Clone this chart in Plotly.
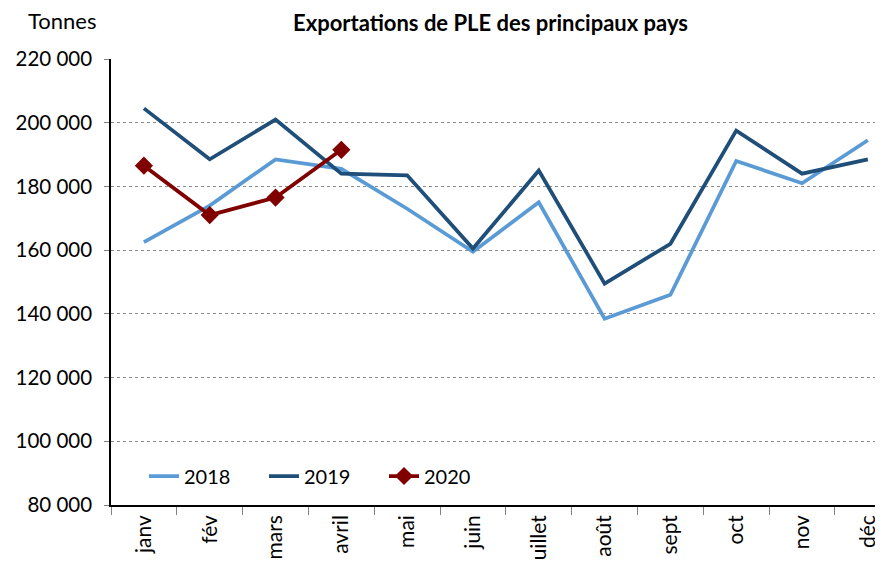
import plotly.graph_objects as go

months = ["janv", "fév", "mars", "avril", "mai", "juin", "uillet", "août", "sept", "oct", "nov", "déc"]
y2018 = [162500, 174000, 188500, 185500, 173000, 159500, 175000, 138500, 146000, 188000, 181000, 194500]
y2019 = [204500, 188500, 201000, 184000, 183500, 160500, 185000, 149500, 162000, 197500, 184000, 188500]
y2020 = [186500, 171000, 176500, 191500]
yticks = [80000, 100000, 120000, 140000, 160000, 180000, 200000, 220000]
ytick_labels = ["80 000", "100 000", "120 000", "140 000", "160 000", "180 000", "200 000", "220 000"]

FONT = "Lato, Calibri, Carlito, sans-serif"
OFF = 8  # page body margin
W, H = 883 - OFF, 569 - OFF
# plot area in reference (window) pixels
PL, PR, PT, PB = 111, 883, 59, 505
L, R, T, B = PL - OFF, 883 - PR, PT - OFF, 569 - PB
pw, ph = PR - PL, PB - PT


def px(x):
    return (x - PL) / pw


def py(y):
    return (PB - y) / ph


fig = go.Figure()
fig.add_trace(go.Scatter(x=months, y=y2018, name="2018", mode="lines",
                         line=dict(color="#5B9BD5", width=3.75)))
fig.add_trace(go.Scatter(x=months, y=y2019, name="2019", mode="lines",
                         line=dict(color="#1F4E79", width=3.75)))
fig.add_trace(go.Scatter(x=months[:4], y=y2020, name="2020", mode="lines+markers",
                         line=dict(color="#800000", width=3.75),
                         marker=dict(symbol="diamond", size=14, color="#800000")))

fig.update_layout(
    width=W, height=H,
    margin=dict(l=L, r=R, t=T, b=B, autoexpand=False),
    paper_bgcolor="white", plot_bgcolor="white",
    font=dict(family=FONT, size=20, color="black"),
    showlegend=True,
    legend=dict(orientation="h", x=px(144), y=py(476), xanchor="left", yanchor="middle",
                font=dict(size=20), bgcolor="rgba(0,0,0,0)",
                entrywidth=75, entrywidthmode="pixels",
                traceorder="normal"),
    annotations=[
        dict(text="<b>Exportations de PLE des principaux pays</b>", x=px(490), y=py(22),
             xref="paper", yref="paper", xanchor="center", yanchor="middle",
             showarrow=False, font=dict(size=22)),
        dict(text="Tonnes", x=px(62), y=py(20),
             xref="paper", yref="paper", xanchor="center", yanchor="middle",
             showarrow=False, font=dict(size=22)),
    ],
)

fig.update_xaxes(
    type="category", range=[-0.5, 11.23],
    tickangle=-90, tickson="boundaries", ticks="outside", ticklen=8,
    tickcolor="#808080", showgrid=False,
    showline=True, linecolor="black", linewidth=1.5,
    tickfont=dict(size=21),
)
fig.update_yaxes(
    range=[80000, 220000], tickvals=yticks, ticktext=ytick_labels,
    ticks="outside", ticklen=5, tickcolor="#808080",
    ticklabelstandoff=8,
    showgrid=True, gridcolor="#8c8c8c", griddash="dot", gridwidth=1,
    showline=True, linecolor="black", linewidth=1.5,
    zeroline=False, tickfont=dict(size=20.5),
)

fig.write_html("out.html")
